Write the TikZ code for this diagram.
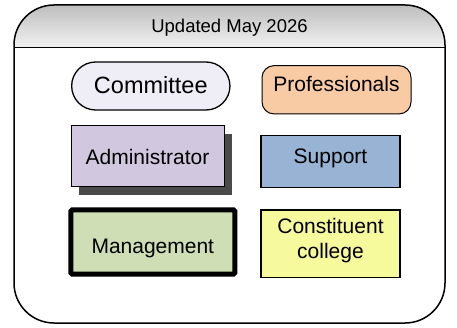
\documentclass[tikz,border=0pt]{standalone}
\usepackage{fontspec}
\setmainfont{Liberation Sans}
\usetikzlibrary{shadows}
\definecolor{cmtfill}{HTML}{EFEDF5}
\definecolor{profill}{HTML}{F9CBA4}
\definecolor{admfill}{HTML}{D1C8DF}
\definecolor{supfill}{HTML}{98B3D3}
\definecolor{mgtfill}{HTML}{CFDEB4}
\definecolor{colfill}{HTML}{F6F99C}
\definecolor{shadowgray}{HTML}{4A4A4A}
\definecolor{hdtop}{HTML}{BEBEBE}
\definecolor{hdbot}{HTML}{F2F2F2}
\begin{document}
\begin{tikzpicture}[x=1pt,y=-1pt,
  box/.style={draw=black, line width=1.3pt, inner sep=0pt, outer sep=0pt},
  lbl/.style={font=\fontsize{21}{25}\selectfont, inner sep=0pt, anchor=base, align=center}]
\useasboundingbox (0,0) rectangle (457,328);
% outer frame with header
\begin{scope}
  \clip[rounded corners=40pt] (14,5) rectangle (445,323);
  \shade[top color=hdtop, bottom color=hdbot] (14,5) rectangle (445,47.5);
\end{scope}
\coordinate (hl) at (14,47.5);
\coordinate (hr) at (445,47.5);
\draw[line width=1.4pt] (hl) -- (hr);
\draw[line width=1.5pt, rounded corners=40pt] (14,5) rectangle (445,323);
\node[font=\fontsize{18.5}{22}\selectfont, inner sep=0pt, anchor=base] (title) at (229.5,32.3) {Updated May 2026};
% boxes
\node[box, fill=cmtfill, rounded corners=24pt, minimum width=158.3pt, minimum height=48pt] (cmt) at (150.8,86) {};
\node[box, fill=profill, line width=1pt, rounded corners=12pt, minimum width=149pt, minimum height=48.3pt] (pro) at (336.5,89.8) {};
\node[box, fill=admfill, line width=1pt, minimum width=153pt, minimum height=60.7pt,
  drop shadow={shadow xshift=8pt, shadow yshift=-8.5pt, fill=shadowgray, opacity=1}] (adm) at (147.5,156.3) {};
\node[box, fill=supfill, minimum width=139pt, minimum height=51.6pt] (sup) at (330.5,161.5) {};
\node[box, fill=mgtfill, line width=5pt, rounded corners=1.5pt, minimum width=164pt, minimum height=64.4pt] (mgt) at (152.8,242) {};
\node[box, fill=colfill, minimum width=139pt, minimum height=67.7pt] (col) at (330.5,243.8) {};
% labels
\node[lbl, font=\fontsize{23.5}{28}\selectfont] (tcmt) at (150.8,94) {Committee};
\node[lbl] (tpro) at (336.5,91.7) {Professionals};
\node[lbl] (tadm) at (147.5,165) {Administrator};
\node[lbl] (tsup) at (330.5,163.3) {Support};
\node[lbl] (tmgt) at (152.8,253.3) {Management};
\node[lbl] (tcol) at (330.5,258.3) {Constituent\\college};
\end{tikzpicture}
\end{document}
